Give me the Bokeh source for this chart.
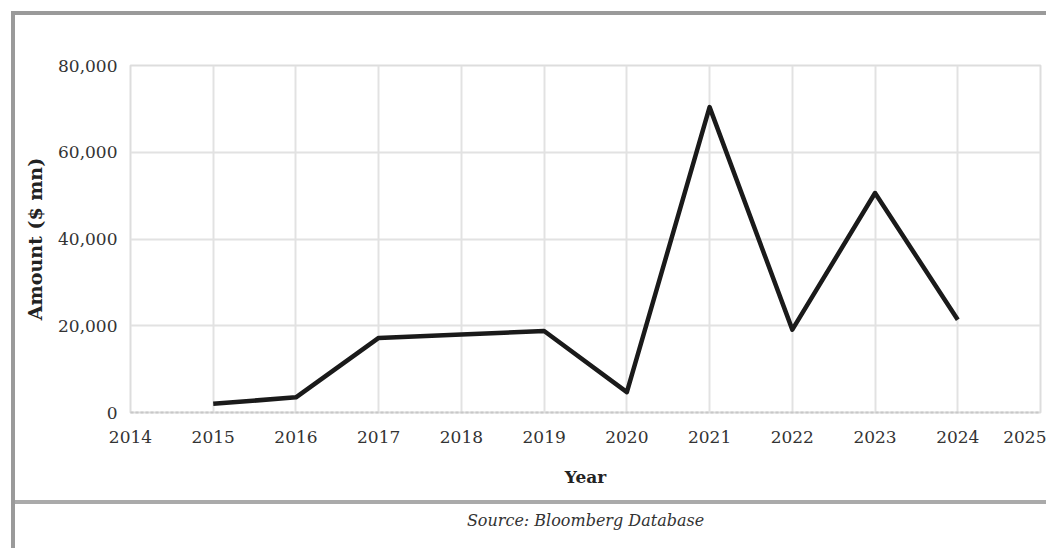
from bokeh.plotting import figure
from bokeh.models import Title, NumeralTickFormatter, FixedTicker, Range1d
from bokeh.embed import file_html
from bokeh.resources import INLINE

years = [2015, 2016, 2017, 2018, 2019, 2020, 2021, 2022, 2023, 2024]
amounts = [2000, 3500, 17200, 18000, 18800, 4700, 70400, 19100, 50600, 21400]
x_ticks = list(range(2014, 2026))
y_ticks = [0, 20000, 40000, 60000, 80000]

FONT = "DejaVu Serif"

p = figure(width=1046, height=548, output_backend="svg", toolbar_location=None,
           x_range=Range1d(2014, 2025), y_range=Range1d(0, 80000),
           min_border_left=130, min_border_right=6, min_border_top=65, min_border_bottom=135,
           border_fill_alpha=0,
           styles={
               "background-color": "white",
               "background-image": "linear-gradient(#9a9a9a,#9a9a9a), linear-gradient(#9a9a9a,#9a9a9a), linear-gradient(#aaaaaa,#aaaaaa)",
               "background-size": "1035px 4px, 4px 537px, 1035px 4px",
               "background-position": "11px 11px, 11px 11px, 11px 500px",
               "background-repeat": "no-repeat",
           })
p.line(years, amounts, line_color="#1a1a1a", line_width=4.5, line_join="round")

p.xaxis.ticker = FixedTicker(ticks=x_ticks)
p.yaxis.ticker = FixedTicker(ticks=y_ticks)
p.yaxis.formatter = NumeralTickFormatter(format="0,0")
for ax in (p.xaxis, p.yaxis):
    ax.major_label_text_font = FONT
    ax.major_label_text_font_size = "17px"
    ax.major_label_text_color = "#333333"
    ax.major_tick_line_color = None
    ax.minor_tick_line_color = None
    ax.axis_label_text_font = FONT
    ax.axis_label_text_font_style = "bold"
    ax.axis_label_text_color = "#222222"
p.xaxis.axis_label = "Year"
p.yaxis.axis_label = "Amount ($ mn)"
p.xaxis.axis_label_text_font_size = "17px"
p.yaxis.axis_label_text_font_size = "19px"
p.xaxis.axis_line_color = "#c8c8c8"
p.xaxis.axis_line_dash = "3 2"
p.xaxis.axis_line_width = 2
p.yaxis.axis_line_color = None
p.xaxis.major_label_standoff = 12
p.yaxis.major_label_standoff = 7
p.xaxis.axis_label_standoff = 21
p.yaxis.axis_label_standoff = 9

p.grid.grid_line_color = "#e2e2e2"
p.grid.grid_line_width = 2
p.outline_line_color = "#dddddd"
p.outline_line_width = 2

p.add_layout(Title(text="Source: Bloomberg Database", align="center",
                   text_font=FONT, text_font_style="italic", text_font_size="16px",
                   text_color="#333333", standoff=38), "below")

open("out.html", "w").write(file_html(p, INLINE))
